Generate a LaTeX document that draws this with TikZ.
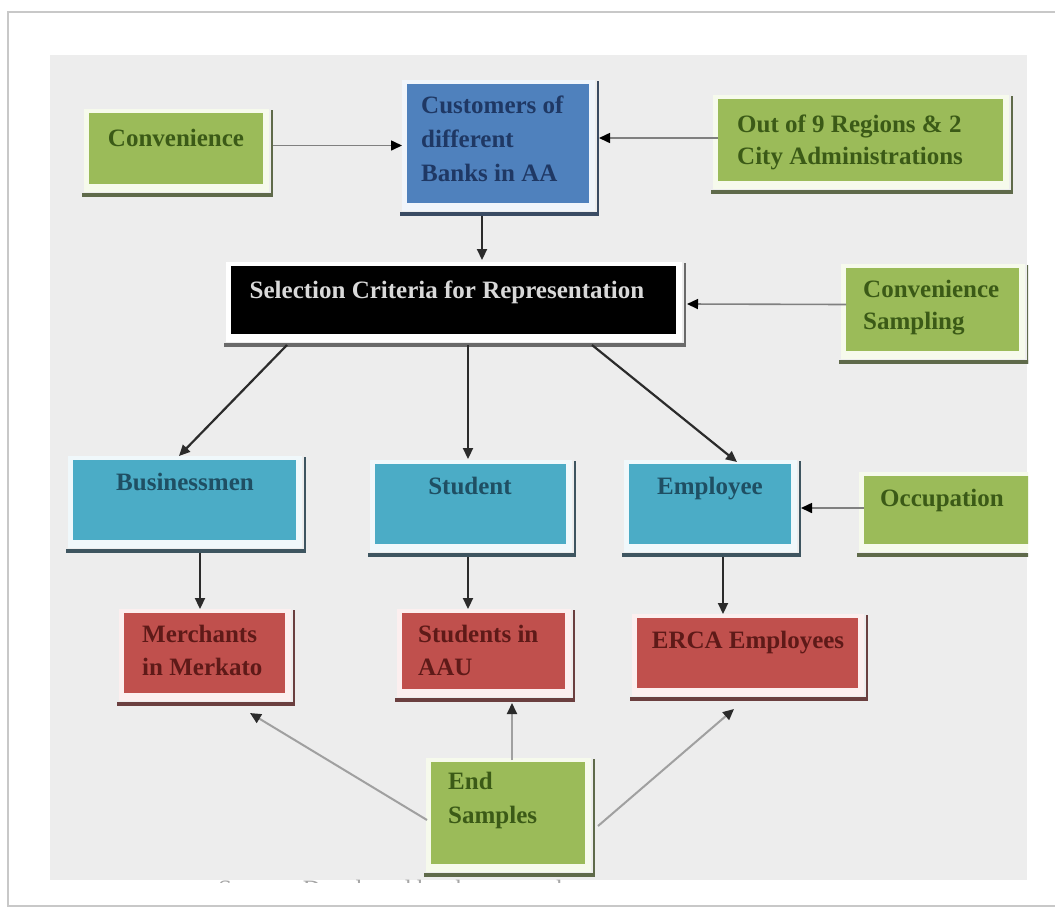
\documentclass[tikz,border=0pt]{standalone}
\usepackage{fontspec}
\setmainfont{Liberation Serif}
\usetikzlibrary{arrows.meta,calc,fit}
\definecolor{bg}{HTML}{EDEDED}
\definecolor{framec}{HTML}{C8C8C8}
\definecolor{greenfill}{HTML}{9BBB59}
\definecolor{greenshd}{HTML}{5F6A4A}
\definecolor{greenbrd}{HTML}{F6FAEC}
\definecolor{greentxt}{HTML}{3B5A17}
\definecolor{bluefill}{HTML}{4F81BD}
\definecolor{blueshd}{HTML}{3A4B63}
\definecolor{bluebrd}{HTML}{F0F5FB}
\definecolor{bluetxt}{HTML}{1F3864}
\definecolor{aquafill}{HTML}{4BACC6}
\definecolor{aquashd}{HTML}{3E5560}
\definecolor{aquabrd}{HTML}{F0F8FB}
\definecolor{aquatxt}{HTML}{1F4F63}
\definecolor{redfill}{HTML}{C0504D}
\definecolor{redshd}{HTML}{6B3F3F}
\definecolor{redbrd}{HTML}{FCEFEF}
\definecolor{redtxt}{HTML}{5E1A18}
\definecolor{blackfill}{HTML}{000000}
\definecolor{blackshd}{HTML}{6A6A6A}
\definecolor{blackbrd}{HTML}{FFFFFF}
\definecolor{blacktxt}{HTML}{D9D9D9}
\definecolor{darkline}{HTML}{2B2B2B}
\definecolor{sideline}{HTML}{808080}
\definecolor{endline}{HTML}{A0A0A0}
\newcommand\shbox[6]{%
  \fill[#6shd] (#2-7,#5+9) rectangle (#4+10,#5+13);
  \fill[#6shd] (#4+8,#3-3) rectangle (#4+10,#5+13);
  \fill[#6brd] (#2-5,#3-4) rectangle (#4+6,#5+8);
  \node[fit={(#2,#3) (#4,#5)}, inner sep=0pt, outer sep=0pt, fill=#6fill] (#1) {};
}
\tikzset{
  txt/.style={font=\bfseries\fontsize{25}{34}\selectfont, inner sep=0pt, align=left},
  darrow/.style={draw=darkline, line width=2.2pt, -{Triangle[length=11pt,width=10pt]}},
  sarrow/.style={draw=sideline, line width=1.6pt, -{Triangle[length=11pt,width=10pt,color=black]}},
  earrow/.style={draw=endline, line width=2pt, -{Triangle[length=11pt,width=10pt,color=darkline]}}
}
\begin{document}
\begin{tikzpicture}[x=1pt,y=-1pt]
\useasboundingbox (0,0) rectangle (1055,911);
\draw[framec, line width=2pt, fill=white] (8,12) rectangle (1075,906);
\fill[bg] (50,55) rectangle (1027,880);
\begin{scope}
\clip (50,55) rectangle (1028,880);
\shbox{conv}{89}{113}{263}{184}{green}
\shbox{cust}{407}{84}{589}{203}{blue}
\shbox{out}{718}{99}{1003}{181}{green}
\shbox{sel}{231}{266}{676}{334}{black}
\shbox{cs}{846}{268}{1019}{351}{green}
\shbox{bus}{73}{460}{296}{540}{aqua}
\shbox{stu}{375}{464}{566}{544}{aqua}
\shbox{emp}{629}{464}{791}{544}{aqua}
\shbox{occ}{864}{476}{1040}{544}{green}
\shbox{mer}{124}{613}{285}{693}{red}
\shbox{aau}{402}{613}{565}{689}{red}
\shbox{erca}{637}{618}{858}{688}{red}
\shbox{end}{431}{762}{585}{864}{green}
\end{scope}
% texts (multi-line nodes: base anchor = last line)
\node[txt, text=greentxt, anchor=base] (convT) at (176,146) {Convenience};
\node[txt, text=bluetxt, anchor=base west] (custT) at (421,181) {Customers of\\different\\Banks in AA};
\node[txt, text=greentxt, anchor=base west, font=\bfseries\fontsize{25}{32}\selectfont] (outT) at (737,164) {Out of 9 Regions \& 2\\City Administrations};
\node[txt, text=blacktxt, anchor=base] (selT) at (447,298) {Selection Criteria for Representation};
\node[txt, text=greentxt, anchor=base west, font=\bfseries\fontsize{25}{32}\selectfont] (csT) at (863,329) {Convenience\\Sampling};
\node[txt, text=aquatxt, anchor=base] (busT) at (185,490) {Businessmen};
\node[txt, text=aquatxt, anchor=base] (stuT) at (470,494) {Student};
\node[txt, text=aquatxt, anchor=base] (empT) at (710,494) {Employee};
\node[txt, text=greentxt, anchor=base] (occT) at (942,506) {Occupation};
\node[txt, text=redtxt, anchor=base west, font=\bfseries\fontsize{25}{33}\selectfont] (merT) at (142,675) {Merchants\\in Merkato};
\node[txt, text=redtxt, anchor=base west, font=\bfseries\fontsize{25}{33}\selectfont] (aauT) at (418,675) {Students in\\AAU};
\node[txt, text=redtxt, anchor=base] (ercaT) at (748,648) {ERCA Employees};
\node[txt, text=greentxt, anchor=base west] (endT) at (448,823) {End\\Samples};
% connectors
\draw[sarrow] ($(conv.east)+(10,-3)$) -- ($(cust.west)+(-5,2)$);
\draw[sarrow] ($(out.west)+(0,-2)$) -- ($(cust.east)+(10,-5.5)$);
\draw[sarrow] ($(cs.west)+(0,-5)$) -- ($(sel.east)+(11,4)$);
\draw[sarrow] ($(occ.west)+(0,-2)$) -- ($(emp.east)+(10,4)$);
\draw[darrow] ($(cust.south west)+(75,13)$) -- ($(sel.north west)+(251,-6)$);
\draw[darrow] ($(sel.south west)+(56,11)$) -- ($(bus.north west)+(106,-4)$);
\draw[darrow] ($(sel.south west)+(237,11)$) -- ($(stu.north west)+(93,-5)$);
\draw[darrow] ($(sel.south west)+(361,11)$) -- ($(emp.north west)+(108,-2)$);
\draw[darrow] ($(bus.south west)+(127,13)$) -- ($(mer.north west)+(76,-4)$);
\draw[darrow] ($(stu.south west)+(93,13)$) -- ($(aau.north west)+(66,-4)$);
\draw[darrow] ($(emp.south west)+(94,13)$) -- ($(erca.north west)+(86,-4)$);
\draw[earrow] ($(end.north west)+(-4,58)$) -- ($(mer.south west)+(126,20)$);
\draw[earrow] ($(end.north west)+(81,-2)$) -- ($(aau.south west)+(110,14)$);
\draw[earrow] ($(end.north west)+(167,64)$) -- ($(erca.south west)+(97,21)$);
\begin{scope}
\clip (200,875) rectangle (700,882);
\node[font=\fontsize{25}{30}\selectfont, text=gray!70, inner sep=0pt, anchor=base west] (src) at (218,897) {Source: Developed by the researcher};
\end{scope}
\end{tikzpicture}
\end{document}
